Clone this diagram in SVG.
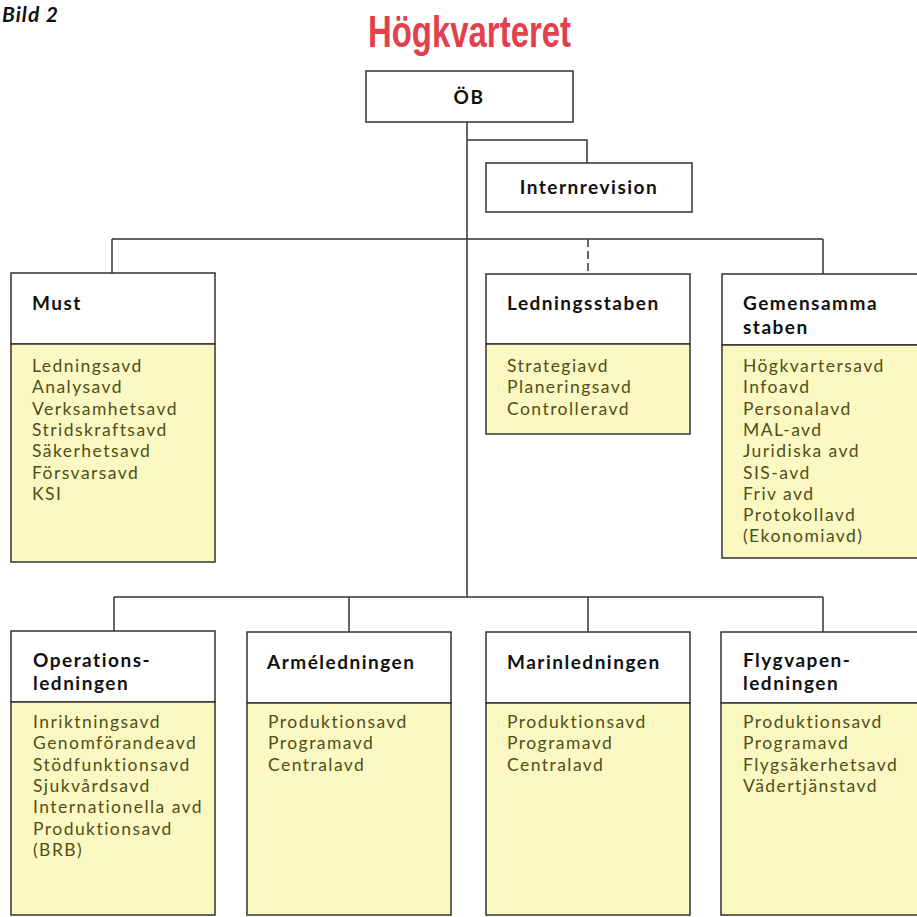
<svg xmlns="http://www.w3.org/2000/svg" width="917" height="917" viewBox="0 0 917 917">
<style>
.box{fill:#ffffff;stroke:#333;stroke-width:1.5}
.body{fill:#fcf8c2;stroke:#333;stroke-width:1.5}
.hd{font-family:Lato,"Open Sans",sans-serif;font-size:19px;font-weight:700;fill:#111;letter-spacing:1.5px}
.it{font-family:Lato,"Open Sans",sans-serif;font-size:17.5px;fill:#4f4f18;letter-spacing:1.45px}
.con{stroke:#333;stroke-width:1.5;fill:none}
</style>
<rect width="917" height="917" fill="#fff"/>
<text x="2" y="22" font-family="Lato,'Open Sans',sans-serif" font-size="21" font-weight="700" font-style="italic" fill="#111" letter-spacing="1">Bild 2</text>
<text x="368" y="47" font-family="'Liberation Sans',sans-serif" font-size="44" font-weight="700" fill="#e2404c" textLength="203" lengthAdjust="spacingAndGlyphs">Högkvarteret</text>

<g id="connectors">
<path class="con" d="M467 122V597"/>
<path class="con" d="M467 140H587V163"/>
<path class="con" d="M112 239H823"/>
<path class="con" d="M112 239V273"/>
<path class="con" d="M588 239V274" stroke-dasharray="8 4" stroke="#666"/>
<path class="con" d="M823 239V274"/>
<path class="con" d="M114 597H823"/>
<path class="con" d="M114 597V631"/>
<path class="con" d="M349 597V632"/>
<path class="con" d="M588 597V632"/>
<path class="con" d="M823 597V632"/>
</g>

<g id="ob">
<rect class="box" x="366" y="71" width="207" height="51"/>
<text class="hd" x="469" y="104" text-anchor="middle" font-size="22">ÖB</text>
</g>

<g id="internrevision">
<rect class="box" x="486" y="163" width="206" height="49"/>
<text class="hd" x="589" y="194" text-anchor="middle">Internrevision</text>
</g>

<g id="must">
<rect class="box" x="11" y="273" width="204" height="71"/>
<rect class="body" x="11" y="344" width="204" height="218"/>
<text class="hd" x="32" y="310">Must</text>
<text class="it"><tspan x="32" y="372">Ledningsavd</tspan><tspan x="32" dy="21.3">Analysavd</tspan><tspan x="32" dy="21.3">Verksamhetsavd</tspan><tspan x="32" dy="21.3">Stridskraftsavd</tspan><tspan x="32" dy="21.3">Säkerhetsavd</tspan><tspan x="32" dy="21.3">Försvarsavd</tspan><tspan x="32" dy="21.3">KSI</tspan></text>
</g>

<g id="ledningsstaben">
<rect class="box" x="486" y="274" width="204" height="70"/>
<rect class="body" x="486" y="344" width="204" height="90"/>
<text class="hd" x="507" y="310">Ledningsstaben</text>
<text class="it"><tspan x="507" y="372">Strategiavd</tspan><tspan x="507" dy="21.3">Planeringsavd</tspan><tspan x="507" dy="21.3">Controlleravd</tspan></text>
</g>

<g id="gemensamma">
<rect class="box" x="722" y="274" width="210" height="71"/>
<rect class="body" x="722" y="345" width="210" height="213"/>
<text class="hd"><tspan x="743" y="310">Gemensamma</tspan><tspan x="743" y="334">staben</tspan></text>
<text class="it"><tspan x="743" y="372">Högkvartersavd</tspan><tspan x="743" dy="21.3">Infoavd</tspan><tspan x="743" dy="21.3">Personalavd</tspan><tspan x="743" dy="21.3">MAL-avd</tspan><tspan x="743" dy="21.3">Juridiska avd</tspan><tspan x="743" dy="21.3">SIS-avd</tspan><tspan x="743" dy="21.3">Friv avd</tspan><tspan x="743" dy="21.3">Protokollavd</tspan><tspan x="743" dy="21.3">(Ekonomiavd)</tspan></text>
</g>

<g id="operationsledningen">
<rect class="box" x="11" y="631" width="204" height="71"/>
<rect class="body" x="11" y="702" width="204" height="213"/>
<text class="hd"><tspan x="33" y="667">Operations-</tspan><tspan x="33" y="690">ledningen</tspan></text>
<text class="it"><tspan x="33" y="728">Inriktningsavd</tspan><tspan x="33" dy="21.3">Genomförandeavd</tspan><tspan x="33" dy="21.3">Stödfunktionsavd</tspan><tspan x="33" dy="21.3">Sjukvårdsavd</tspan><tspan x="33" dy="21.3">Internationella avd</tspan><tspan x="33" dy="21.3">Produktionsavd</tspan><tspan x="33" dy="21.3">(BRB)</tspan></text>
</g>

<g id="armeledningen">
<rect class="box" x="247" y="632" width="204" height="71"/>
<rect class="body" x="247" y="703" width="204" height="212"/>
<text class="hd" x="267" y="669">Arméledningen</text>
<text class="it"><tspan x="268" y="728">Produktionsavd</tspan><tspan x="268" dy="21.3">Programavd</tspan><tspan x="268" dy="21.3">Centralavd</tspan></text>
</g>

<g id="marinledningen">
<rect class="box" x="486" y="632" width="204" height="71"/>
<rect class="body" x="486" y="703" width="204" height="212"/>
<text class="hd" x="507" y="669">Marinledningen</text>
<text class="it"><tspan x="507" y="728">Produktionsavd</tspan><tspan x="507" dy="21.3">Programavd</tspan><tspan x="507" dy="21.3">Centralavd</tspan></text>
</g>

<g id="flygvapenledningen">
<rect class="box" x="721" y="632" width="211" height="71"/>
<rect class="body" x="721" y="703" width="211" height="212"/>
<text class="hd"><tspan x="743" y="667">Flygvapen-</tspan><tspan x="743" y="690">ledningen</tspan></text>
<text class="it"><tspan x="743" y="728">Produktionsavd</tspan><tspan x="743" dy="21.3">Programavd</tspan><tspan x="743" dy="21.3">Flygsäkerhetsavd</tspan><tspan x="743" dy="21.3">Vädertjänstavd</tspan></text>
</g>
</svg>
